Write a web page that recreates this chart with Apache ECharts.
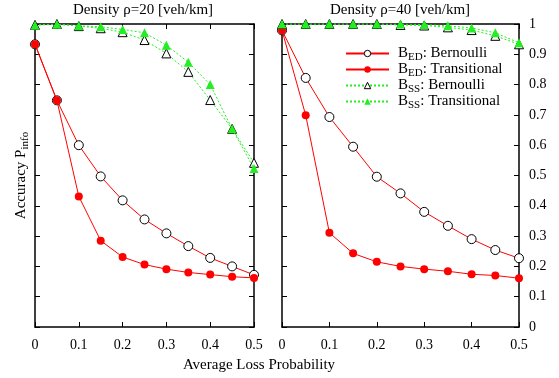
<!DOCTYPE html>
<html>
<head>
<meta charset="utf-8">
<script src="https://cdn.jsdelivr.net/npm/echarts@6/dist/echarts.min.js"></script>
<style>
  html, body { margin: 0; padding: 0; background: #fff; }
  #chart { width: 559px; height: 378px; }
</style>
</head>
<body>
<div id="chart"></div>
<script>
const lossProb = [0, 0.05, 0.1, 0.15, 0.2, 0.25, 0.3, 0.35, 0.4, 0.45, 0.5];

// density 20 veh/km
const edBern20 = [0.933, 0.748, 0.600, 0.497, 0.418, 0.355, 0.309, 0.267, 0.228, 0.200, 0.172];
const edTrans20 = [0.933, 0.748, 0.431, 0.285, 0.231, 0.206, 0.191, 0.180, 0.173, 0.166, 0.162];
const ssBern20 = [0.997, 1.0, 0.993, 0.986, 0.973, 0.947, 0.903, 0.842, 0.749, 0.654, 0.542];
const ssTrans20 = [0.996, 0.999, 0.994, 0.991, 0.982, 0.971, 0.930, 0.874, 0.800, 0.654, 0.523];

// density 40 veh/km
const edBern40 = [0.979, 0.822, 0.693, 0.595, 0.496, 0.441, 0.380, 0.334, 0.290, 0.254, 0.227];
const edTrans40 = [0.979, 0.699, 0.311, 0.243, 0.215, 0.200, 0.191, 0.184, 0.174, 0.170, 0.161];
const ssBern40 = [1.0, 1.0, 1.0, 1.0, 1.0, 0.997, 0.995, 0.989, 0.980, 0.961, 0.933];
const ssTrans40 = [1.0, 1.0, 1.0, 1.0, 1.0, 1.0, 0.998, 0.994, 0.987, 0.971, 0.938];

const names = ['BED: Bernoulli', 'BED: Transitional', 'BSS: Bernoulli', 'BSS: Transitional'];
const titles = ['Density ρ=20 [veh/km]', 'Density ρ=40 [veh/km]'];

const FONT = 'Liberation Serif';
const RED = '#ff0000';
const GREEN = '#22ee22';
const pairs = ys => lossProb.map((x, i) => [x, ys[i]]);

const tickStyle = { show: true, inside: true, length: 5, lineStyle: { color: '#000', width: 1 } };
const axLine = { show: true, onZero: false, lineStyle: { color: '#000', width: 1.5 } };

function xAx(grid, pos, labels) {
  return {
    type: 'value', gridIndex: grid, position: pos, min: 0, max: 0.5, interval: 0.1,
    axisLine: axLine, axisTick: tickStyle, splitLine: { show: false },
    axisLabel: { show: labels, margin: 11, color: '#000', fontFamily: FONT, fontSize: 14 }
  };
}
function yAx(grid, pos, labels) {
  return {
    type: 'value', gridIndex: grid, position: pos, min: 0, max: 1, interval: 0.1,
    axisLine: axLine, axisTick: tickStyle, splitLine: { show: false },
    axisLabel: { show: labels, margin: 10, color: '#000', fontFamily: FONT, fontSize: 14, align: 'left' }
  };
}

const openMark = { color: '#fff', borderColor: '#000', borderWidth: 1 };

function makeSeries(panel, data) {
  const xi = panel * 2, yi = panel * 2;
  return [
    { name: names[0], type: 'line', xAxisIndex: xi, yAxisIndex: yi, data: pairs(data[0]),
      symbol: 'circle', symbolSize: 9, z: 3,
      lineStyle: { color: RED, width: 1 }, itemStyle: openMark },
    { name: names[1], type: 'line', xAxisIndex: xi, yAxisIndex: yi, data: pairs(data[1]),
      symbol: 'circle', symbolSize: 8, z: 4,
      lineStyle: { color: RED, width: 1 }, itemStyle: { color: RED } },
    { name: names[2], type: 'line', xAxisIndex: xi, yAxisIndex: yi, data: pairs(data[2]),
      symbol: 'triangle', symbolSize: 9, z: 5,
      lineStyle: { color: GREEN, width: 1, type: [2, 2] }, itemStyle: openMark },
    { name: names[3], type: 'line', xAxisIndex: xi, yAxisIndex: yi, data: pairs(data[3]),
      symbol: 'triangle', symbolSize: 9, z: 6,
      lineStyle: { color: GREEN, width: 1, type: [2, 2] }, itemStyle: { color: GREEN } }
  ];
}

const chart = echarts.init(document.getElementById('chart'));
chart.setOption({
  animation: false,
  textStyle: { fontFamily: FONT },
  title: [
    { text: titles[0], left: 143, top: 3, padding: 0, textAlign: 'center',
      textStyle: { fontFamily: FONT, fontSize: 15, fontWeight: 'normal', color: '#000' } },
    { text: titles[1], left: 400, top: 3, padding: 0, textAlign: 'center',
      textStyle: { fontFamily: FONT, fontSize: 15, fontWeight: 'normal', color: '#000' } },
    { text: 'Average Loss Probability', left: 259, top: 358, padding: 0, textAlign: 'center',
      textStyle: { fontFamily: FONT, fontSize: 15, fontWeight: 'normal', color: '#000' } }
  ],
  legend: {
    data: names, orient: 'vertical', left: 345, top: 46, padding: 0,
    itemWidth: 43, itemHeight: 8, itemGap: -1,
    itemStyle: { borderWidth: 1 },
    formatter: n => {
      const k = n.indexOf(':');
      return '{b|B}{s|' + n.slice(1, k) + '}{t|' + n.slice(k) + '}';
    },
    textStyle: {
      color: '#000', fontFamily: FONT, fontSize: 15,
      rich: {
        b: { fontFamily: FONT, fontSize: 15, color: '#000', padding: [0, 0, 0, 4] },
        s: { fontFamily: FONT, fontSize: 11, color: '#000', padding: [8, 0, 0, 0] },
        t: { fontFamily: FONT, fontSize: 15, color: '#000' }
      }
    }
  },
  grid: [
    { left: 35, top: 24, width: 219, height: 303 },
    { left: 282, top: 24, width: 237, height: 303 }
  ],
  xAxis: [xAx(0, 'bottom', true), xAx(0, 'top', false), xAx(1, 'bottom', true), xAx(1, 'top', false)],
  yAxis: [
    Object.assign(yAx(0, 'left', false), {
      name: '{a|Accuracy P}{s|info}', nameLocation: 'middle', nameGap: 4, nameRotate: 90,
      nameTextStyle: {
        rich: {
          a: { fontFamily: FONT, fontSize: 15, color: '#000' },
          s: { fontFamily: FONT, fontSize: 11, color: '#000', padding: [8, 0, 0, 0] }
        }
      }
    }),
    yAx(0, 'right', false),
    yAx(1, 'left', false),
    yAx(1, 'right', true)
  ],
  series: [
    ...makeSeries(0, [edBern20, edTrans20, ssBern20, ssTrans20]),
    ...makeSeries(1, [edBern40, edTrans40, ssBern40, ssTrans40])
  ]
});
</script>
</body>
</html>
